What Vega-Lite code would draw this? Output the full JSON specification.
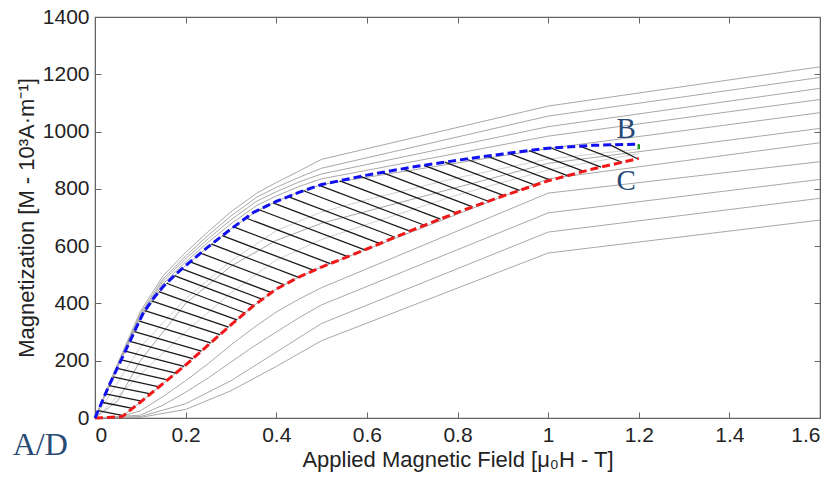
{
  "$schema": "https://vega.github.io/schema/vega-lite/v6.json",
  "width": 725,
  "height": 401,
  "autosize": {"type": "none"},
  "padding": {"left": 95, "top": 17, "right": 18, "bottom": 61},
  "background": "white",
  "config": {
    "view": {"stroke": "#666", "strokeWidth": 1.2},
    "axis": {"labelFont": "Liberation Sans", "titleFont": "Liberation Sans", "labelFontSize": 21, "titleFontSize": 22, "titleFontWeight": "normal", "labelColor": "#222", "titleColor": "#222", "domainColor": "#666", "tickColor": "#666", "grid": false}
  },
  "datasets": {
    "gray": [
      {"c":1,"H":0,"M":0},{"c":1,"H":0.1,"M":2},{"c":1,"H":0.2,"M":30},{"c":1,"H":0.3,"M":95},{"c":1,"H":0.4,"M":180},{"c":1,"H":0.5,"M":270},{"c":1,"H":1.0,"M":576},{"c":1,"H":1.6,"M":691},
      {"c":2,"H":0,"M":0},{"c":2,"H":0.1,"M":5},{"c":2,"H":0.2,"M":50},{"c":2,"H":0.3,"M":130},{"c":2,"H":0.4,"M":230},{"c":2,"H":0.5,"M":330},{"c":2,"H":1.0,"M":649},{"c":2,"H":1.6,"M":767},
      {"c":3,"H":0,"M":0},{"c":3,"H":0.1,"M":10},{"c":3,"H":0.15,"M":45},{"c":3,"H":0.2,"M":90},{"c":3,"H":0.25,"M":140},{"c":3,"H":0.3,"M":195},{"c":3,"H":0.35,"M":250},{"c":3,"H":0.4,"M":300},{"c":3,"H":0.45,"M":350},{"c":3,"H":0.5,"M":395},{"c":3,"H":1.0,"M":716},{"c":3,"H":1.6,"M":833},
      {"c":4,"H":0,"M":0},{"c":4,"H":0.05,"M":2},{"c":4,"H":0.1,"M":25},{"c":4,"H":0.15,"M":75},{"c":4,"H":0.2,"M":130},{"c":4,"H":0.25,"M":190},{"c":4,"H":0.3,"M":255},{"c":4,"H":0.35,"M":315},{"c":4,"H":0.4,"M":370},{"c":4,"H":0.45,"M":415},{"c":4,"H":0.5,"M":455},{"c":4,"H":1.0,"M":785},{"c":4,"H":1.6,"M":895},
      {"c":5,"H":0,"M":0},{"c":5,"H":0.06,"M":5},{"c":5,"H":0.1,"M":55},{"c":5,"H":0.2,"M":185},{"c":5,"H":0.3,"M":325},{"c":5,"H":0.35,"M":392},{"c":5,"H":0.4,"M":450},{"c":5,"H":0.45,"M":492},{"c":5,"H":0.5,"M":527},{"c":5,"H":1.0,"M":835},{"c":5,"H":1.6,"M":961},
      {"c":6,"H":0,"M":0},{"c":6,"H":0.05,"M":60},{"c":6,"H":0.1,"M":200},{"c":6,"H":0.2,"M":400},{"c":6,"H":0.3,"M":530},{"c":6,"H":0.4,"M":620},{"c":6,"H":0.5,"M":680},{"c":6,"H":1.0,"M":889},{"c":6,"H":1.6,"M":1011},
      {"c":7,"H":0,"M":0},{"c":7,"H":0.05,"M":177},{"c":7,"H":0.1,"M":345},{"c":7,"H":0.15,"M":458},{"c":7,"H":0.2,"M":532},{"c":7,"H":0.25,"M":598},{"c":7,"H":0.3,"M":660},{"c":7,"H":0.357,"M":723},{"c":7,"H":0.4,"M":756},{"c":7,"H":0.45,"M":788},{"c":7,"H":0.5,"M":815},{"c":7,"H":1.0,"M":941},{"c":7,"H":1.6,"M":1066},
      {"c":8,"H":0,"M":0},{"c":8,"H":0.05,"M":180},{"c":8,"H":0.1,"M":352},{"c":8,"H":0.15,"M":468},{"c":8,"H":0.2,"M":545},{"c":8,"H":0.25,"M":614},{"c":8,"H":0.3,"M":678},{"c":8,"H":0.357,"M":742},{"c":8,"H":0.4,"M":775},{"c":8,"H":0.45,"M":808},{"c":8,"H":0.5,"M":835},{"c":8,"H":1.0,"M":984},{"c":8,"H":1.6,"M":1112},
      {"c":9,"H":0,"M":0},{"c":9,"H":0.05,"M":183},{"c":9,"H":0.1,"M":358},{"c":9,"H":0.15,"M":477},{"c":9,"H":0.2,"M":556},{"c":9,"H":0.25,"M":626},{"c":9,"H":0.3,"M":692},{"c":9,"H":0.357,"M":757},{"c":9,"H":0.4,"M":790},{"c":9,"H":0.45,"M":824},{"c":9,"H":0.5,"M":852},{"c":9,"H":1.0,"M":1017},{"c":9,"H":1.6,"M":1151},
      {"c":10,"H":0,"M":0},{"c":10,"H":0.05,"M":186},{"c":10,"H":0.1,"M":364},{"c":10,"H":0.15,"M":485},{"c":10,"H":0.2,"M":566},{"c":10,"H":0.25,"M":638},{"c":10,"H":0.3,"M":705},{"c":10,"H":0.357,"M":771},{"c":10,"H":0.4,"M":805},{"c":10,"H":0.45,"M":840},{"c":10,"H":0.5,"M":872},{"c":10,"H":1.0,"M":1054},{"c":10,"H":1.6,"M":1189},
      {"c":11,"H":0,"M":0},{"c":11,"H":0.05,"M":190},{"c":11,"H":0.1,"M":372},{"c":11,"H":0.15,"M":496},{"c":11,"H":0.2,"M":578},{"c":11,"H":0.25,"M":651},{"c":11,"H":0.3,"M":720},{"c":11,"H":0.357,"M":785},{"c":11,"H":0.4,"M":822},{"c":11,"H":0.45,"M":862},{"c":11,"H":0.5,"M":903},{"c":11,"H":1.0,"M":1089},{"c":11,"H":1.6,"M":1226}
    ],
    "inner": [
      {"c":1,"H":0,"M":0},{"c":1,"H":0.1,"M":152},{"c":1,"H":0.2,"M":301},{"c":1,"H":0.3,"M":437},{"c":1,"H":0.4,"M":552},{"c":1,"H":0.5,"M":623},{"c":1,"H":0.6,"M":676},{"c":1,"H":0.8,"M":779},{"c":1,"H":1.0,"M":866},{"c":1,"H":1.2,"M":923},
      {"c":2,"H":0,"M":0},{"c":2,"H":0.1,"M":248},{"c":2,"H":0.2,"M":416},{"c":2,"H":0.3,"M":548},{"c":2,"H":0.4,"M":654},{"c":2,"H":0.5,"M":719},{"c":2,"H":0.6,"M":762},{"c":2,"H":0.8,"M":839},{"c":2,"H":1.0,"M":904},{"c":2,"H":1.2,"M":939}
    ],
    "hatch": [
      {"id":1,"H":0.007,"M":25.7},{"id":1,"H":0.0626,"M":8.2},
      {"id":2,"H":0.015,"M":55},{"id":2,"H":0.0829,"M":33.6},
      {"id":3,"H":0.023,"M":84.3},{"id":3,"H":0.1031,"M":59},
      {"id":4,"H":0.031,"M":113.3},{"id":4,"H":0.1226,"M":84.4},
      {"id":5,"H":0.04,"M":143.3},{"id":5,"H":0.1414,"M":108.8},
      {"id":6,"H":0.049,"M":173.3},{"id":6,"H":0.1599,"M":132.9},
      {"id":7,"H":0.058,"M":203.3},{"id":7,"H":0.1783,"M":156.8},
      {"id":8,"H":0.067,"M":233.8},{"id":8,"H":0.1966,"M":180.6},
      {"id":9,"H":0.077,"M":267.8},{"id":9,"H":0.216,"M":207.4},
      {"id":10,"H":0.087,"M":301.6},{"id":10,"H":0.2349,"M":233.8},
      {"id":11,"H":0.098,"M":338.1},{"id":11,"H":0.2552,"M":262.3},
      {"id":12,"H":0.11,"M":374.8},{"id":12,"H":0.2757,"M":291},
      {"id":13,"H":0.125,"M":408.7},{"id":13,"H":0.2947,"M":317.6},
      {"id":14,"H":0.141,"M":440.9},{"id":14,"H":0.3133,"M":342.8},
      {"id":15,"H":0.158,"M":470.5},{"id":15,"H":0.3311,"M":366.6},
      {"id":16,"H":0.175,"M":497},{"id":16,"H":0.35,"M":392},
      {"id":17,"H":0.192,"M":520.8},{"id":17,"H":0.3693,"M":414.4},
      {"id":18,"H":0.21,"M":545.2},{"id":18,"H":0.3893,"M":437.6},
      {"id":19,"H":0.233,"M":575.6},{"id":19,"H":0.4176,"M":464.8},
      {"id":20,"H":0.257,"M":606.7},{"id":20,"H":0.4496,"M":491},
      {"id":21,"H":0.281,"M":636.4},{"id":21,"H":0.4831,"M":515.2},
      {"id":22,"H":0.306,"M":667},{"id":22,"H":0.5192,"M":539.1},
      {"id":23,"H":0.333,"M":698.3},{"id":23,"H":0.5578,"M":563.4},
      {"id":24,"H":0.362,"M":727.1},{"id":24,"H":0.5954,"M":587},
      {"id":25,"H":0.393,"M":750.7},{"id":25,"H":0.629,"M":609.1},
      {"id":26,"H":0.426,"M":772.6},{"id":26,"H":0.6621,"M":631},
      {"id":27,"H":0.46,"M":793.4},{"id":27,"H":0.6948,"M":652.5},
      {"id":28,"H":0.495,"M":812.3},{"id":28,"H":0.7273,"M":672.9},
      {"id":29,"H":0.54,"M":828.2},{"id":29,"H":0.7625,"M":694.7},
      {"id":30,"H":0.586,"M":843.4},{"id":30,"H":0.7975,"M":716.5},
      {"id":31,"H":0.633,"M":857.2},{"id":31,"H":0.8333,"M":737},
      {"id":32,"H":0.679,"M":870.1},{"id":32,"H":0.868,"M":756.7},
      {"id":33,"H":0.726,"M":882.2},{"id":33,"H":0.9025,"M":776.3},
      {"id":34,"H":0.772,"M":893.3},{"id":34,"H":0.9367,"M":794.5},
      {"id":35,"H":0.819,"M":904.2},{"id":35,"H":0.9713,"M":812.8},
      {"id":36,"H":0.865,"M":914.3},{"id":36,"H":1.0052,"M":830.2},
      {"id":37,"H":0.912,"M":924.4},{"id":37,"H":1.0427,"M":846},
      {"id":38,"H":0.958,"M":933.6},{"id":38,"H":1.0788,"M":861.1},
      {"id":39,"H":1.006,"M":942.6},{"id":39,"H":1.1169,"M":876.1},
      {"id":40,"H":1.07,"M":949},{"id":40,"H":1.1635,"M":892.9},
      {"id":41,"H":1.137,"M":953.5},{"id":41,"H":1.197,"M":905}
    ],
    "blue": [
      {"H":0,"M":0},{"H":0.03,"M":110},{"H":0.06,"M":210},{"H":0.085,"M":295},{"H":0.107,"M":368},{"H":0.13,"M":420},{"H":0.15,"M":458},{"H":0.175,"M":497},{"H":0.2,"M":532},{"H":0.25,"M":598},{"H":0.3,"M":660},{"H":0.35,"M":718},{"H":0.4,"M":756},{"H":0.45,"M":788},{"H":0.5,"M":815},{"H":0.6,"M":848},{"H":0.7,"M":876},{"H":0.8,"M":900},{"H":0.9,"M":922},{"H":1.0,"M":942},{"H":1.1,"M":952},{"H":1.2,"M":956}
    ],
    "red": [
      {"H":0,"M":0},{"H":0.03,"M":2},{"H":0.06,"M":5},{"H":0.1,"M":55},{"H":0.15,"M":120},{"H":0.2,"M":185},{"H":0.25,"M":255},{"H":0.3,"M":325},{"H":0.35,"M":392},{"H":0.4,"M":450},{"H":0.45,"M":492},{"H":0.5,"M":527},{"H":0.6,"M":590},{"H":0.7,"M":656},{"H":0.8,"M":718},{"H":0.9,"M":775},{"H":1.0,"M":828},{"H":1.1,"M":870},{"H":1.2,"M":906}
    ],
    "green": [{"H":1.2,"M":956},{"H":1.2,"M":930}],
    "labels": [
      {"t":"A/D","H":-0.121,"M":-94,"s":32},
      {"t":"B","H":1.172,"M":1010,"s":29},
      {"t":"C","H":1.172,"M":827,"s":29}
    ]
  },
  "layer": [
    {
      "data": {"name": "gray"},
      "mark": {"type": "line", "color": "#a8a8a8", "strokeWidth": 1},
      "encoding": {
        "x": {"field": "H", "type": "quantitative", "scale": {"domain": [0, 1.6], "nice": false},
              "axis": {"orient": "bottom", "values": [0,0.2,0.4,0.6,0.8,1,1.2,1.4,1.6], "format": "~g", "tickSize": -6, "labelPadding": 12, "title": "Applied Magnetic Field [μ₀H - T]", "titlePadding": 4}},
        "y": {"field": "M", "type": "quantitative", "scale": {"domain": [0, 1400], "nice": false},
              "axis": {"orient": "left", "values": [0,200,400,600,800,1000,1200,1400], "format": "d", "tickSize": -6, "labelPadding": 12, "title": "Magnetization [M - 10³A·m⁻¹]", "titlePadding": 4}},
        "detail": {"field": "c"}
      }
    },
    {
      "data": {"name": "inner"},
      "mark": {"type": "line", "color": "#c4c4c4", "strokeWidth": 0.8},
      "encoding": {
        "x": {"field": "H", "type": "quantitative", "axis": null},
        "y": {"field": "M", "type": "quantitative", "axis": null},
        "detail": {"field": "c"}
      }
    },
    {
      "data": {"name": "hatch"},
      "mark": {"type": "line", "color": "#1a1a1a", "strokeWidth": 1.3},
      "encoding": {
        "x": {"field": "H", "type": "quantitative", "axis": null},
        "y": {"field": "M", "type": "quantitative", "axis": null},
        "detail": {"field": "id"}
      }
    },
    {
      "data": {"name": "red"},
      "mark": {"type": "line", "color": "#f01818", "strokeWidth": 3, "strokeDash": [8, 4]},
      "encoding": {
        "x": {"field": "H", "type": "quantitative", "axis": null},
        "y": {"field": "M", "type": "quantitative", "axis": null}
      }
    },
    {
      "data": {"name": "blue"},
      "mark": {"type": "line", "color": "#1010f0", "strokeWidth": 3, "strokeDash": [8, 4]},
      "encoding": {
        "x": {"field": "H", "type": "quantitative", "axis": null},
        "y": {"field": "M", "type": "quantitative", "axis": null}
      }
    },
    {
      "data": {"name": "green"},
      "mark": {"type": "line", "color": "#1a9a1a", "strokeWidth": 2.5, "strokeDash": [5, 3]},
      "encoding": {
        "x": {"field": "H", "type": "quantitative",
              "axis": {"orient": "top", "values": [0,0.2,0.4,0.6,0.8,1,1.2,1.4,1.6], "labels": false, "title": null, "tickSize": -6}},
        "y": {"field": "M", "type": "quantitative",
              "axis": {"orient": "right", "values": [0,200,400,600,800,1000,1200,1400], "labels": false, "title": null, "tickSize": -6}}
      }
    },
    {
      "data": {"name": "labels"},
      "mark": {"type": "text", "font": "Liberation Serif", "color": "#284a75", "align": "center", "baseline": "middle"},
      "encoding": {
        "x": {"field": "H", "type": "quantitative", "axis": null},
        "y": {"field": "M", "type": "quantitative", "axis": null},
        "text": {"field": "t"},
        "size": {"field": "s", "type": "quantitative", "scale": null}
      }
    }
  ],
  "resolve": {"axis": {"x": "independent", "y": "independent"}}
}
